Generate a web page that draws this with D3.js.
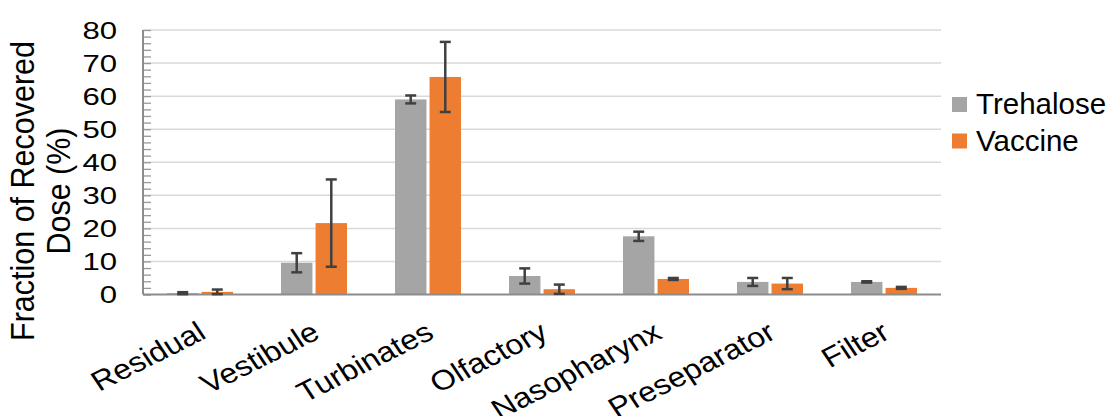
<!DOCTYPE html>
<html>
<head>
<meta charset="utf-8">
<script src="https://cdn.jsdelivr.net/npm/d3@7"></script>
<style>
body { margin: 0; background: #fff; }
text { font-family: "Liberation Sans", Arial, sans-serif; fill: #000; }
</style>
</head>
<body>
<div id="chart"></div>
<script>
var categories = ["Residual", "Vestibule", "Turbinates", "Olfactory", "Nasopharynx", "Preseparator", "Filter"];
var seriesNames = ["Trehalose", "Vaccine"];
var trehalose = [0.4, 9.6, 59.0, 5.6, 17.6, 3.8, 3.8];
var trehaloseErr = [0.3, 2.9, 1.2, 2.3, 1.4, 1.2, 0.2];
var vaccine = [0.8, 21.6, 65.8, 1.6, 4.7, 3.3, 2.0];
var vaccineErr = [0.7, 13.2, 10.6, 1.4, 0.3, 1.7, 0.3];
var yTicks = [0, 10, 20, 30, 40, 50, 60, 70, 80];

var colors = {"Trehalose": "#A5A5A5", "Vaccine": "#ED7D31"};

var width = 1111, height = 416;
var plot = {left: 143, right: 941, top: 30, bottom: 294.5};

var svg = d3.select("#chart").append("svg")
  .attr("width", width)
  .attr("height", height);

var x = d3.scaleBand()
  .domain(categories)
  .range([plot.left, plot.right])
  .paddingInner(48 / 114)
  .paddingOuter(24 / 114);

var xs = d3.scaleBand()
  .domain(seriesNames)
  .range([0, x.bandwidth()])
  .paddingInner(0.09);

var y = d3.scaleLinear()
  .domain([0, 80])
  .range([plot.bottom, plot.top]);

// gridlines
svg.append("g")
  .selectAll("line")
  .data(yTicks.slice(1))
  .enter().append("line")
  .attr("x1", plot.left)
  .attr("x2", plot.right)
  .attr("y1", function (d) { return y(d); })
  .attr("y2", function (d) { return y(d); })
  .attr("stroke", "#D9D9D9")
  .attr("stroke-width", 1.5);

// minor ticks on y axis (inside)
var yAxis = d3.axisRight(y)
  .tickValues(d3.range(0, 81, 2))
  .tickSize(8)
  .tickFormat("");

var ya = svg.append("g")
  .attr("transform", "translate(" + plot.left + ",0)")
  .call(yAxis);
ya.select(".domain").remove();
ya.selectAll("line").attr("stroke", "#999999").attr("stroke-width", 1.3);

// y tick labels (stretched a bit wide like the original)
svg.append("g")
  .selectAll("text")
  .data(yTicks)
  .enter().append("text")
  .attr("transform", function (d) { return "translate(117," + y(d) + ") scale(1.27,1)"; })
  .attr("dy", "0.36em")
  .attr("text-anchor", "end")
  .style("font-size", "24.5px")
  .text(function (d) { return d; });

// bars
var rows = categories.map(function (c, i) {
  return [
    {cat: c, s: "Trehalose", v: trehalose[i], e: trehaloseErr[i]},
    {cat: c, s: "Vaccine", v: vaccine[i], e: vaccineErr[i]}
  ];
});
var flat = [].concat.apply([], rows);

svg.append("g")
  .selectAll(".bar")
  .data(flat)
  .enter().append("rect")
  .attr("class", "bar")
  .attr("x", function (d) { return x(d.cat) + xs(d.s); })
  .attr("y", function (d) { return y(d.v); })
  .attr("width", xs.bandwidth())
  .attr("height", function (d) { return y(0) - y(d.v); })
  .attr("fill", function (d) { return colors[d.s]; });

// axis lines
svg.append("line")
  .attr("x1", plot.left).attr("x2", plot.right)
  .attr("y1", y(0)).attr("y2", y(0))
  .attr("stroke", "#8C8C8C").attr("stroke-width", 2);
svg.append("line")
  .attr("x1", plot.left).attr("x2", plot.left)
  .attr("y1", y(80)).attr("y2", y(0))
  .attr("stroke", "#8C8C8C").attr("stroke-width", 2);

// error bars
var err = svg.append("g")
  .selectAll(".err")
  .data(flat)
  .enter().append("g")
  .attr("class", "err")
  .attr("stroke", "#404040")
  .attr("stroke-width", 2.5);
var cx = function (d) { return x(d.cat) + xs(d.s) + xs.bandwidth() / 2; };
err.append("line")
  .attr("x1", cx).attr("x2", cx)
  .attr("y1", function (d) { return y(d.v + d.e); })
  .attr("y2", function (d) { return y(Math.max(0, d.v - d.e)); });
err.append("line")
  .attr("x1", function (d) { return cx(d) - 5.5; })
  .attr("x2", function (d) { return cx(d) + 5.5; })
  .attr("y1", function (d) { return y(d.v + d.e); })
  .attr("y2", function (d) { return y(d.v + d.e); });
err.append("line")
  .attr("x1", function (d) { return cx(d) - 5.5; })
  .attr("x2", function (d) { return cx(d) + 5.5; })
  .attr("y1", function (d) { return y(Math.max(0, d.v - d.e)); })
  .attr("y2", function (d) { return y(Math.max(0, d.v - d.e)); });

// x labels
svg.append("g")
  .selectAll("text")
  .data(categories)
  .enter().append("text")
  .attr("transform", function (d) {
    return "translate(" + (x(d) + x.bandwidth() / 2 - 4) + ",320) scale(1.15,1) rotate(-30)";
  })
  .attr("text-anchor", "end")
  .attr("dy", "0.72em")
  .style("font-size", "28px")
  .text(function (d) { return d; });

// y title
var yt = svg.append("text")
  .attr("transform", "translate(22,191) scale(1.1,1) rotate(-90)")
  .attr("text-anchor", "middle")
  .style("font-size", "30.5px");
yt.append("tspan").attr("x", 0).attr("dy", "0.35em").text("Fraction of Recovered");
yt.append("tspan").attr("x", 0).attr("dy", "1.08em").text("Dose (%)");

// legend
var legend = svg.selectAll(".legend")
  .data(seriesNames)
  .enter().append("g")
  .attr("class", "legend")
  .attr("transform", function (d, i) { return "translate(952," + (97 + i * 36.5) + ")"; });
legend.append("rect")
  .attr("width", 15)
  .attr("height", 15)
  .attr("fill", function (d) { return colors[d]; });
legend.append("text")
  .attr("x", 24)
  .attr("y", 17)
  .style("font-size", "29.5px")
  .text(function (d) { return d; });
</script>
</body>
</html>
